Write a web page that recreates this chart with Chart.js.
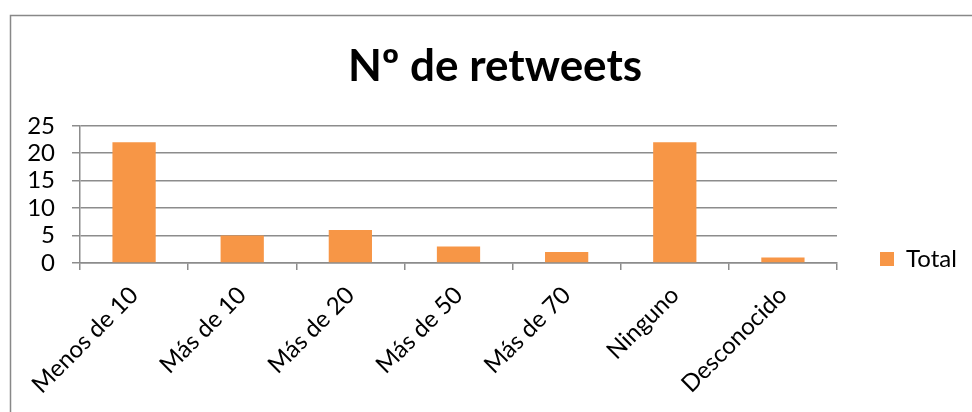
<!DOCTYPE html>
<html>
<head>
<meta charset="utf-8">
<script src="https://cdn.jsdelivr.net/npm/chart.js@4"></script>
<style>
  html, body { margin: 0; padding: 0; background: #fff; }
  #wrap { width: 972px; height: 412px; position: relative; }
</style>
</head>
<body>
<div id="wrap"><canvas id="c" width="972" height="412"></canvas></div>
<script>
const categories = ["Menos de 10", "Más de 10", "Más de 20", "Más de 50", "Más de 70", "Ninguno", "Desconocido"];
const totalValues = [22, 5, 6, 3, 2, 22, 1];
const seriesName = "Total";
const chartTitle = "Nº de retweets";
const yMin = 0, yMax = 25, yStep = 5;

const GRID = '#8c8c8c';
const FONT = 'Lato, "Open Sans", sans-serif';

const framePlugin = {
  id: 'frame',
  beforeDraw(chart) {
    const ctx = chart.ctx;
    ctx.save();
    ctx.strokeStyle = '#888888';
    ctx.lineWidth = 1.5;
    ctx.beginPath();
    ctx.moveTo(10.5, chart.height);
    ctx.lineTo(10.5, 15.5);
    ctx.lineTo(chart.width, 15.5);
    ctx.stroke();
    ctx.restore();
  }
};

const placePlugin = {
  id: 'place',
  afterInit(chart) {
    const lg = chart.legend;
    const origFit = lg.fit;
    lg.fit = function () {
      origFit.call(this);
      this.width = 135;
    };
  },
  afterLayout(chart) {
    const lg = chart.legend;
    const dx = 33;
    const dy = chart.chartArea.bottom - 26 - lg.top;
    lg.left += dx; lg.right += dx;
    lg.top += dy; lg.bottom += dy;
    const tb = chart.titleBlock;
    if (tb) { tb.left += 9; tb.right += 9; }
  }
};

new Chart(document.getElementById('c'), {
  type: 'bar',
  data: {
    labels: categories,
    datasets: [{
      label: seriesName,
      data: totalValues,
      backgroundColor: '#F79646',
      borderWidth: 0,
      categoryPercentage: 1.0,
      barPercentage: 0.4
    }]
  },
  options: {
    responsive: false,
    animation: false,
    layout: { padding: { left: 0, right: 0, top: 0, bottom: 0 } },
    plugins: {
      title: {
        display: true,
        text: chartTitle,
        color: '#000',
        font: { family: FONT, size: 44, weight: 'bold', lineHeight: 1.2 },
        padding: { top: 40, bottom: 33 }
      },
      legend: {
        display: true,
        position: 'right',
        align: 'start',
        fullSize: false,
        labels: {
          color: '#000',
          font: { family: FONT, size: 24 },
          boxWidth: 14,
          boxHeight: 14,
          padding: 10
        }
      },
      tooltip: { enabled: false }
    },
    scales: {
      x: {
        offset: true,
        grid: {
          display: true,
          drawOnChartArea: false,
          drawTicks: true,
          tickLength: 7,
          offset: true,
          color: GRID,
          lineWidth: 1.5
        },
        border: { display: true, color: GRID, width: 1.5 },
        ticks: {
          color: '#000',
          font: { family: FONT, size: 24 },
          minRotation: 45,
          maxRotation: 45,
          autoSkip: false,
          padding: 11
        },
        afterFit(scale) { scale.height = 149; }
      },
      y: {
        min: yMin,
        max: yMax,
        grid: {
          color: GRID,
          lineWidth: 1.5,
          drawTicks: true,
          tickLength: 8
        },
        border: { display: true, color: GRID, width: 1.5 },
        ticks: {
          stepSize: yStep,
          color: '#000',
          font: { family: FONT, size: 24 },
          autoSkip: false,
          padding: 17
        },
        afterFit(scale) { scale.width = 80; }
      }
    }
  },
  plugins: [framePlugin, placePlugin]
});
</script>
</body>
</html>
